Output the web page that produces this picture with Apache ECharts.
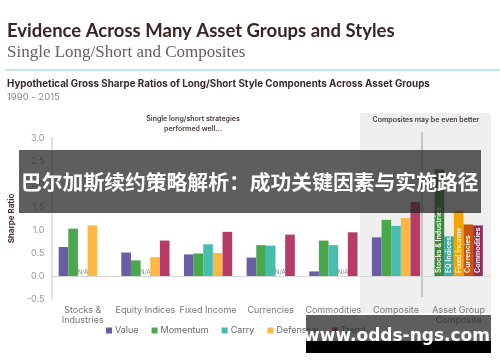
<!DOCTYPE html>
<html>
<head>
<meta charset="utf-8">
<script src="https://cdn.jsdelivr.net/npm/echarts@6/dist/echarts.min.js"></script>
<style>html,body{margin:0;padding:0;background:#fff;}#c{width:500px;height:362px;}</style>
</head>
<body>
<div id="c"></div>
<script>
const categories = ['Stocks &\nIndustries','Equity Indices','Fixed Income','Currencies','Commodities','Composite','Asset Group\nComposite'];
const seriesNames = ['Value','Momentum','Carry','Defensive','Trend'];
const valueData = [0.63, 0.51, 0.47, 0.40, 0.10, 0.84, 2.32];
const momentumData = [1.03, 0.34, 0.49, 0.67, 0.77, 1.22, 0.86];
const carryData = ['N/A', 'N/A', 0.69, 0.66, 0.67, 1.09, 1.42];
const defensiveData = [1.10, 0.41, 0.50, 'N/A', 'N/A', 1.26, 1.12];
const trendData = [null, 0.77, 0.96, 0.90, 0.95, 1.61, 1.10];
const groupCompositeNames = ['Stocks & Industries', 'EQ Indices', 'Fixed Income', 'Currencies', 'Commodities'];
const yTicks = [-0.5, 0.0, 0.5, 1.0, 1.5, 2.0, 2.5, 3.0];

const seriesColors = ['#6b5ca5', '#4aa84c', '#47bdb0', '#fdb844', '#b63b67'];
const groupColors = ['#3a8c3d', '#3aa9a0', '#f5a300', '#c9560c', '#8e2c58'];
const allData = [valueData, momentumData, carryData, defensiveData, trendData];

function buildData(arr, si) {
  return arr.map((v, i) => {
    if (v === 'N/A') {
      return { value: 0, label: { show: true, formatter: 'N/A', position: 'top', distance: 1, fontSize: 6, color: '#888', fontFamily: 'Inter' } };
    }
    if (i === categories.length - 1) {
      return {
        value: v,
        itemStyle: { color: groupColors[si] },
        label: {
          show: true, formatter: groupCompositeNames[si], position: 'insideBottom', rotate: 90,
          align: 'left', verticalAlign: 'middle', distance: 3, fontSize: 7, fontWeight: 'bold',
          color: '#f2efe6', fontFamily: 'Inter'
        }
      };
    }
    return v;
  });
}

const series = seriesNames.map((n, si) => {
  const s = {
    name: n, type: 'bar', data: buildData(allData[si], si),
    barGap: '0%', barCategoryGap: '23%',
    itemStyle: { color: seriesColors[si] }
  };
  if (si === 0) {
    s.markLine = {
      silent: true, symbol: 'none', label: { show: false },
      lineStyle: { color: '#d6d6d6', width: 1, type: 'solid' },
      data: [{ yAxis: 0 }]
    };
  }
  return s;
});

const chart = echarts.init(document.getElementById('c'), null, { renderer: 'canvas' });
chart.setOption({
  animation: false,
  backgroundColor: '#ffffff',
  textStyle: { fontFamily: 'Inter' },
  grid: { left: 35, right: 10, top: 138, bottom: 63 },
  legend: {
    data: seriesNames, left: 106, top: 326, icon: 'rect', itemWidth: 6, itemHeight: 6, itemGap: 13,
    textStyle: { fontSize: 9, color: '#666', fontFamily: 'Inter', padding: [0, 0, 0, -2] }, padding: 0
  },
  xAxis: {
    type: 'category', data: categories,
    axisLine: { show: false }, axisTick: { show: false },
    axisLabel: { fontSize: 9, color: '#777', margin: 6, lineHeight: 10, interval: 0, fontFamily: 'Inter' }
  },
  yAxis: {
    type: 'value', min: yTicks[0], max: yTicks[yTicks.length - 1], interval: 0.5,
    name: 'Sharpe Ratio', nameLocation: 'middle', nameRotate: 90, nameGap: 22,
    nameTextStyle: { fontSize: 8, fontWeight: 'bold', color: '#4a2d2d', fontFamily: 'Inter' },
    axisLine: { show: true, lineStyle: { color: '#e2e2e2', width: 2 } },
    axisTick: { show: false }, splitLine: { show: false },
    axisLabel: { fontSize: 9, color: '#999', margin: 7, formatter: v => v.toFixed(1), fontFamily: 'Inter' }
  },
  series: series,
  graphic: [
    { type: 'rect', z: -10, silent: true, shape: { x: 360, y: 113, width: 131, height: 200 }, style: { fill: '#efefef' } },
    { type: 'line', z: 1, silent: true, shape: { x1: 422, y1: 132, x2: 422, y2: 297 }, style: { stroke: '#9a9a9a', lineWidth: 1 } },
    { type: 'text', left: 7, top: 22, style: { text: 'Evidence Across Many Asset Groups and Styles', font: 'bold 18.5px Lato', fill: '#3a2424' } },
    { type: 'text', left: 7, top: 44, style: { text: 'Single Long/Short and Composites', font: '17px "Liberation Serif"', fill: '#6b5c5c' } },
    { type: 'line', silent: true, shape: { x1: 5, y1: 70, x2: 500, y2: 70 }, style: { stroke: '#a9dfe9', lineWidth: 1.5 } },
    { type: 'text', left: 7, top: 79, style: { text: 'Hypothetical Gross Sharpe Ratios of Long/Short Style Components Across Asset Groups', font: 'bold 9.8px Inter', fill: '#3b2727' } },
    { type: 'text', left: 7, top: 92, style: { text: '1990 - 2015', font: '9.5px Inter', fill: '#888' } },
    { type: 'text', x: 193, y: 114, style: { text: 'Single long/short strategies\nperformed well...', font: '600 7px Inter', fill: '#4a3a3a', align: 'center', lineHeight: 10 } },
    { type: 'text', x: 426, y: 116, style: { text: 'Composites may be even better', font: '600 7px Inter', fill: '#4a3a3a', align: 'center' } },
    { type: 'rect', z: 100, silent: true, shape: { x: 19, y: 150, width: 462, height: 63 }, style: { fill: 'rgba(38,38,38,0.74)' } },
    { type: 'text', z: 101, x: 21, y: 182, style: { text: '巴尔加斯续约策略解析：成功关键因素与实施路径', font: 'bold 20.8px "Noto Sans CJK SC"', fill: '#ffffff', verticalAlign: 'middle' } },
    { type: 'rect', z: 100, silent: true, shape: { x: 306, y: 315, width: 185, height: 26 }, style: { fill: 'rgba(38,38,38,0.74)' } },
    { type: 'rect', z: 100, silent: true, shape: { x: 306, y: 341, width: 185, height: 12 }, style: { fill: '#000000' } },
    { type: 'text', z: 101, x: 397, y: 337, style: { text: 'www.odds-ngs.com', font: 'bold 17px "DejaVu Sans"', fill: '#ffffff', align: 'center', verticalAlign: 'middle' } }
  ]
});
</script>
</body>
</html>
